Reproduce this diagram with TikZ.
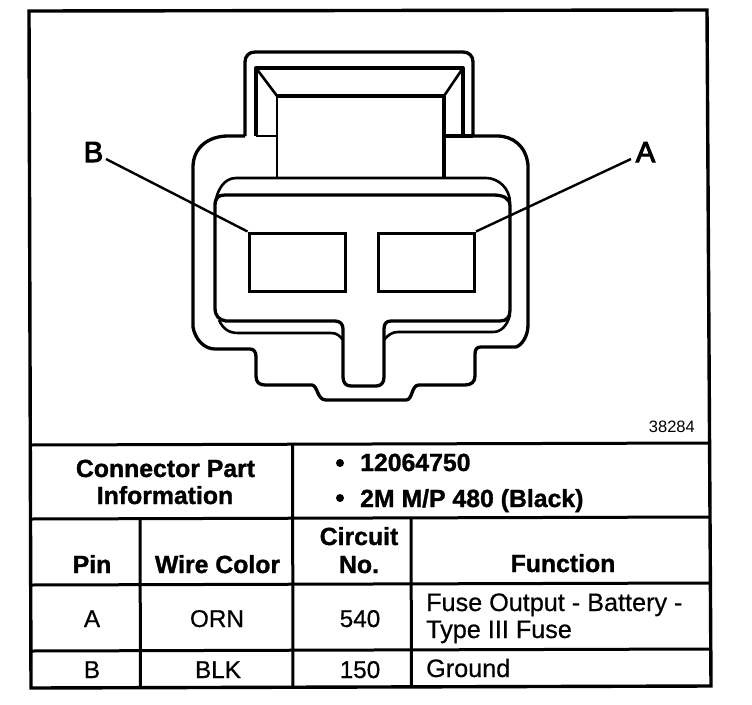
\documentclass[tikz,border=0pt]{standalone}
\usepackage{fontspec}
\setmainfont{Liberation Sans}[BoldFeatures={FakeBold=1.2}]
\newfontfamily\boldlab[FakeBold=3.5]{Liberation Sans}
\newfontfamily\cellfont[FakeBold=0.5]{Liberation Sans}
\newcommand{\fs}[1]{\fontsize{#1}{#1}\selectfont}
\tikzset{
  frameline/.style={line width=3.4pt,line cap=rect},
  gridline/.style={line width=3pt},
  shellline/.style={line width=3.3pt,line join=round},
  thinline/.style={line width=2.6pt,line join=round},
  leaderline/.style={line width=2.4pt},
  hd/.style={inner sep=0pt,font=\fs{24.8}\bfseries,anchor=base},
  hdw/.style={inner sep=0pt,font=\fs{24.8}\bfseries,anchor=base west},
  cell/.style={inner sep=0pt,font=\fs{24.3}\cellfont,anchor=base},
  cellw/.style={inner sep=0pt,font=\fs{25.2}\cellfont,anchor=base west},
  callout/.style={inner sep=0pt,font=\fs{29}\boldlab,anchor=base},
  pinwin/.style={draw,line width=3pt,minimum width=96pt,minimum height=58pt,inner sep=0pt}
}
\begin{document}
\begin{tikzpicture}[x=1pt,y=-1pt]
\useasboundingbox (0,0) rectangle (752,704);
\fill[white] (0,0) rectangle (752,704);
% outer shell
\draw[shellline] (245,136) -- (245,62) .. controls (245,56) and (249,52) .. (255,52)
  -- (463,52) .. controls (469,52) and (473,56) .. (473,62) -- (473,136);
\draw[shellline] (245,136) -- (228,136) .. controls (208,136) and (193,148) .. (193,167)
  -- (193,327) .. controls (195,339) and (204,349) .. (215,349) -- (250,349)
  .. controls (254,349) and (256,352) .. (256,357) -- (256,376)
  .. controls (256,382) and (259,385) .. (265,385) -- (312,385)
  .. controls (318,386) and (317,400) .. (326,400) -- (406,400)
  .. controls (413,400) and (411,385) .. (419,385) -- (465,385)
  .. controls (471,385) and (475,382) .. (475,376) -- (475,354)
  .. controls (475,349) and (477,347) .. (481,347) -- (516,347)
  .. controls (522,345) and (528,336) .. (528,325) -- (528,165)
  .. controls (526,146) and (513,136) .. (497,136) -- (473,136);
\draw[shellline] (473,136) -- (444,136);
% tab interior
\draw[shellline] (256,136) -- (256,68) -- (463,68) -- (463,136);
\draw[thinline] (256,136) -- (277,136);
\draw[thinline] (256,68) -- (277,96);
\draw[thinline] (463,68) -- (444,96);
\draw[shellline] (277,96) -- (444,96);
\draw[thinline] (277,96) -- (277,178);
\draw[shellline] (444,96) -- (444,178);
% body lip
\draw[thinline] (215,204) .. controls (217,190) and (224,178) .. (236,178) -- (486,178)
  .. controls (498,178) and (510,188) .. (510,203);
% inner body
\draw[shellline] (225,195) -- (493,195) .. controls (503,195) and (510,198) .. (510,206)
  -- (510,310) .. controls (510,317) and (507,321) .. (500,321) -- (391,321)
  .. controls (386,321) and (384,324) .. (384,329) -- (384,377)
  .. controls (384,383) and (381,386) .. (376,386) -- (351,386)
  .. controls (346,386) and (343,383) .. (343,377) -- (343,329)
  .. controls (343,324) and (340,321) .. (335,321) -- (226,321)
  .. controls (219,320) and (215,316) .. (215,308) -- (215,206)
  .. controls (215,198) and (218,195) .. (225,195);
% lower lip
\draw[thinline] (219,320) .. controls (223,329) and (229,333) .. (238,333) -- (331,333)
  .. controls (337,333) and (340,336) .. (343,340);
\draw[thinline] (384,340) .. controls (388,335) and (392,332) .. (398,332) -- (493,332)
  .. controls (501,332) and (507,326) .. (510,315);
% windows
\node[pinwin] (winB) at (297,262) {};
\node[pinwin] (winA) at (426.5,262) {};
% callouts
\node[callout] (lblB) at (93.5,162) {B};
\node[callout] (lblA) at (645.5,162) {A};
\coordinate (endB) at (106,159);
\coordinate (endA) at (631,159);
\draw[leaderline] (endB) -- (winB.north west);
\draw[leaderline] (endA) -- (winA.north east);
\node[inner sep=0pt,font=\fs{16.5},anchor=base east] (figno) at (695,432) {38284};
% table rules
\draw[frameline] (29,11) -- (707,10) -- (711,686) -- (31,688) -- cycle;
\draw[gridline] (30.5,445) -- (709.5,443);
\draw[gridline] (31,519) -- (710,517);
\draw[gridline] (31,585) -- (710,583);
\draw[gridline] (31,651) -- (711,649);
\draw[gridline] (140,519) -- (140.5,688);
\draw[gridline] (292.5,445) -- (293,688);
\draw[gridline] (411,517) -- (411.5,687);
% table text
\node[hd] (t1) at (165.5,477) {Connector Part};
\node[hd] (t2) at (165,504) {Information};
\fill (340,463) circle (4);
\fill (340,498) circle (4);
\node[hdw] (t3) at (360,471) {12064750};
\node[hdw] (t4) at (360,507) {2M M/P 480 (Black)};
\node[hd] (h1) at (92,573) {Pin};
\node[hd] (h2) at (217.5,573) {Wire Color};
\node[hd] (h3) at (359,545) {Circuit};
\node[hd] (h4) at (359,573) {No.};
\node[hd] (h5) at (563,572) {Function};
\node[cell] (a1) at (92,627) {A};
\node[cell] (a2) at (217,627) {ORN};
\node[cell] (a3) at (360,627) {540};
\node[cellw] (a4) at (426,611) {Fuse Output - Battery -};
\node[cellw] (a5) at (426,638) {Type III Fuse};
\node[cell] (b1) at (92,678) {B};
\node[cell] (b2) at (218,678) {BLK};
\node[cell] (b3) at (360,678) {150};
\node[cellw] (b4) at (426,677) {Ground};
\end{tikzpicture}
\end{document}
